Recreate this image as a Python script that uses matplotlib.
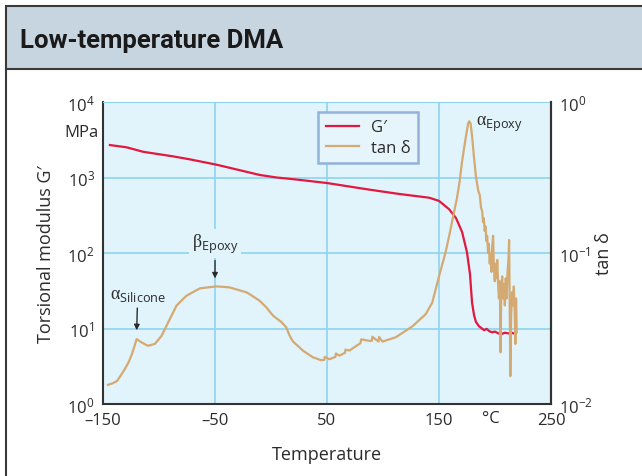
import matplotlib
matplotlib.use("Agg")
import matplotlib.pyplot as plt
from matplotlib.patches import Rectangle
from matplotlib.lines import Line2D

# data
temp_g = [-143.8, -128.9, -114.1, -87.4, -72.5, -48.8, -28, -10, 5, 20, 50, 88, 114.5, 141.2,
          150, 159, 165.2, 170.6, 175, 177.7, 179.5, 181.3, 183, 185.7, 188, 190.2, 192.5,
          195, 197.3, 200, 203, 206.2, 209, 212, 214.2, 216.5, 218.7]
g_mod = [2690, 2510, 2190, 1905, 1740, 1480, 1250, 1080, 1000, 950, 845, 690, 605, 540,
         490, 380, 290, 190, 102, 52, 22, 15, 12.2, 10.7, 10.1, 9.5, 9.9,
         9.2, 8.9, 9.1, 8.6, 8.5, 8.8, 8.6, 8.9, 8.6, 8.7]

temp_tan = [-145.5, -141.5, -137.5, -134, -130.4, -127, -124.2, -122, -120, -116, -110, -103.7,
            -97.7, -91.8, -84.4, -75.5, -63.6, -48.8, -37, -22, -19.1, -10.2, -4.2, 1.7, 9.1,
            13.6, 16.5, 19.5, 28.4, 37.3, 44.7, 47.5, 48, 52.1, 57.5, 58, 61, 66, 66.5, 70,
            78.9, 80, 80.5, 87.8, 90, 90.5, 96, 96.5, 99.6, 111.5, 126.3, 138.2, 144, 147.1, 150.1,
            156, 160, 163, 166, 168.5, 170.5, 172.5, 174.5, 176, 177, 178.2, 179.5, 181, 183,
            185, 186.5, 187.5, 188.5, 189.3, 190, 190.8, 191.5, 192.3, 193, 193.8, 194.5, 195.3,
            196, 196.8, 197.5, 198.3, 199, 199.8, 200.5, 201.3, 202, 202.8, 203.5, 204.3, 205,
            205.6, 206.4, 207.2, 208, 208.8, 209.6, 210.4, 211.2, 212, 212.6, 213.2, 213.7,
            214.4, 215.2, 216, 216.8, 217.6, 218.2, 218.8, 219.4]
tan_delta = [0.0134, 0.0137, 0.0142, 0.0155, 0.0171, 0.019, 0.0214, 0.024, 0.0269, 0.0257, 0.0243, 0.0250,
             0.0283, 0.0347, 0.0448, 0.0521, 0.0583, 0.0601, 0.0592, 0.0549, 0.0534, 0.0483, 0.0437, 0.0385, 0.0350,
             0.0322, 0.0285, 0.0260, 0.0226, 0.0204, 0.0195, 0.0196, 0.0205, 0.0198, 0.0205, 0.0216, 0.0209, 0.0218, 0.0229, 0.0226,
             0.0250, 0.0254, 0.0268, 0.0262, 0.0262, 0.0279, 0.0259, 0.0278, 0.0259, 0.0277, 0.0327, 0.0394, 0.0470, 0.0578, 0.0705,
             0.102, 0.14, 0.18, 0.23, 0.30, 0.40, 0.50, 0.62, 0.72, 0.745, 0.72, 0.60, 0.45, 0.32,
             0.26, 0.24, 0.20, 0.19, 0.16, 0.17, 0.14, 0.15, 0.12, 0.13, 0.10, 0.115, 0.085,
             0.10, 0.075, 0.11, 0.13, 0.08, 0.065, 0.085, 0.068, 0.09, 0.062, 0.05, 0.065, 0.022,
             0.058, 0.07, 0.05, 0.062, 0.045, 0.068, 0.05, 0.075, 0.09, 0.122, 0.04, 0.0153,
             0.038, 0.055, 0.045, 0.06, 0.04, 0.025, 0.05, 0.03]

x_ticks = [-150, -50, 50, 150, 250]
x_labels = ['–150', '–50', '50', '150', '250']
g_ticks = [1, 10, 100, 1000, 10000]
g_labels = ['$10^0$', '$10^1$', '$10^2$', '$10^3$', '$10^4$']
tan_ticks = [0.01, 0.1, 1]
tan_labels = ['$10^{-2}$', '$10^{-1}$', '$10^0$']

red = '#e2183f'
tan = '#d4aa72'
grid_c = '#8ed4f2'
bg = '#e1f3fb'
ink = '#2b2b2b'

plt.rcParams['font.family'] = ['Open Sans', 'DejaVu Sans']
plt.rcParams['mathtext.fontset'] = 'custom'
plt.rcParams['mathtext.rm'] = 'Open Sans'
plt.rcParams['mathtext.it'] = 'Open Sans'
plt.rcParams['mathtext.sf'] = 'Open Sans'
plt.rcParams['mathtext.cal'] = 'Liberation Serif'

fig = plt.figure(figsize=(6.42, 4.77), dpi=100)
W, H = 642, 477

# header band and frame
fig.patches.append(Rectangle((6 / W, 1 - 70 / H), 1, 63 / H, transform=fig.transFigure,
                             facecolor='#c7d5e1', edgecolor='#3a3a3a', lw=1.5))
fig.lines.append(Line2D([6 / W, 6 / W], [0, 1 - 70 / H], transform=fig.transFigure,
                        color='#3a3a3a', lw=1.5))
fig.text(20 / W, 1 - 41 / H, 'Low-temperature DMA', fontsize=18.5, fontweight='bold',
         family=['Roboto', 'DejaVu Sans'], color='#1a1a1a', va='center')

ax = fig.add_axes([103 / W, 1 - 405 / H, 448 / W, 302 / H])
ax.set_facecolor(bg)
ax.set_xlim(-150, 250)
ax.set_yscale('log')
ax.set_ylim(1, 1e4)
ax.set_xticks(x_ticks, x_labels)
ax.set_yticks(g_ticks, g_labels)
ax.minorticks_off()
ax.tick_params(length=0, labelsize=12, labelcolor=ink, pad=6)
ax.grid(True, color=grid_c, lw=1.2)
ax.spines['top'].set_color(grid_c)
for s in ['left', 'bottom', 'right']:
    ax.spines[s].set_color('#333333')
    ax.spines[s].set_linewidth(1.5)

ax.plot(temp_g, g_mod, color=red, lw=1.6, label='G′')

ax2 = ax.twinx()
ax2.set_yscale('log')
ax2.set_ylim(0.01, 1)
ax2.set_yticks(tan_ticks, tan_labels)
ax2.minorticks_off()
ax2.tick_params(length=0, labelsize=12, labelcolor=ink, pad=6)
ax2.spines['top'].set_visible(False)
ax2.spines['left'].set_visible(False)
ax2.spines['bottom'].set_visible(False)
ax2.spines['right'].set_color('#333333')
ax2.spines['right'].set_linewidth(1.5)
ax2.plot(temp_tan, tan_delta, color=tan, lw=1.6, label='tan δ')

ax.set_ylabel('Torsional modulus G′', fontsize=13, color=ink)
ax.yaxis.set_label_coords(-0.107, 0.5)
ax2.set_ylabel('tan δ', fontsize=13, color=ink)
ax2.yaxis.set_label_coords(1.098, 0.5)
ax.set_xlabel('Temperature', fontsize=13, color=ink, labelpad=12)

fig.text(99 / W, 1 - 133 / H, 'MPa', fontsize=12, color=ink, ha='right', va='center')
fig.text(491 / W, 1 - 419 / H, '°C', fontsize=12, color=ink, ha='center', va='center')

# annotations
ax2.annotate(r'$\mathcal{α}_{\mathsf{Silicone}}$', xy=(-120, 0.0295), xytext=(-119, 0.047),
             ha='center', va='bottom', fontsize=13, color=ink,
             arrowprops=dict(arrowstyle='-|>', color=ink, lw=1, mutation_scale=8))
ax2.annotate(r'$\mathcal{β}_{\mathsf{Epoxy}}$', xy=(-50, 0.065), xytext=(-50, 0.097),
             ha='center', va='bottom', fontsize=13, color=ink,
             bbox=dict(boxstyle='square,pad=0.15', fc=bg, ec='none'),
             arrowprops=dict(arrowstyle='-|>', color=ink, lw=1, mutation_scale=8))
ax2.text(183, 0.62, r'$\mathcal{α}_{\mathsf{Epoxy}}$', fontsize=13, color=ink, ha='left', va='bottom')

h1, l1 = ax.get_legend_handles_labels()
h2, l2 = ax2.get_legend_handles_labels()
leg = ax2.legend(h1 + h2, l1 + l2, loc='upper left', bbox_to_anchor=(0.48, 0.967),
                 borderaxespad=0, fontsize=12, frameon=True, fancybox=False, handlelength=2.0,
                 borderpad=0.45, labelspacing=0.25, handletextpad=0.7)
leg.get_frame().set_facecolor('#e6f4fb')
leg.get_frame().set_edgecolor('#93b2d8')
leg.get_frame().set_linewidth(1.8)
leg.get_frame().set_alpha(1)
for t in leg.get_texts():
    t.set_color(ink)

fig.savefig('out.png', dpi=100)
